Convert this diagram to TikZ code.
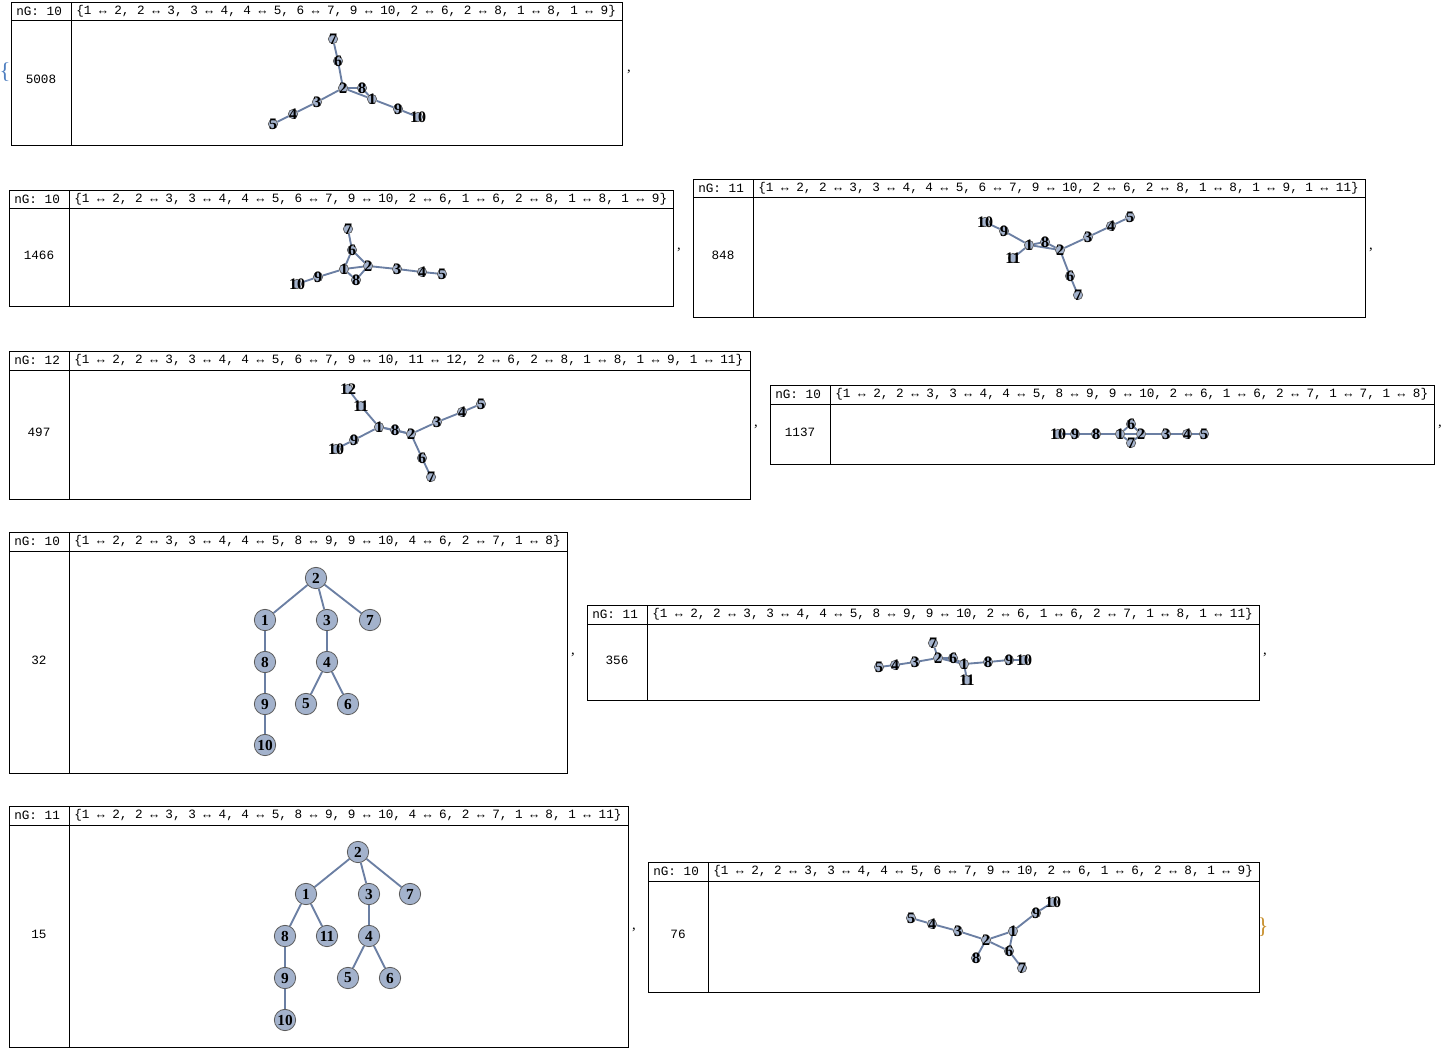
\documentclass[tikz,border=0pt]{standalone}
\usepackage{fontspec}
\setmainfont{Liberation Serif}
\newfontfamily\codefont{Liberation Mono}
\usepackage{tikz}
\usetikzlibrary{backgrounds}
\definecolor{edgeblue}{HTML}{6B7FA3}
\definecolor{vertexfill}{HTML}{A3B2CC}
\definecolor{vertexline}{HTML}{5A5A5A}
\definecolor{openbr}{HTML}{4F7FC0}
\definecolor{closebr}{HTML}{C8902E}

\begin{document}
\begin{tikzpicture}[
  x=0.75pt, y=-0.75pt,
  cell/.style={draw=black, line width=0.6pt},
  hdr/.style={anchor=west, inner sep=0pt, font=\codefont\fontsize{9.5}{10}\selectfont},
  num/.style={inner sep=0pt, font=\codefont\fontsize{9.5}{10}\selectfont},
  vtx/.style={circle, draw=vertexline, fill=vertexfill, line width=0.5pt,
    minimum size=7pt, inner sep=0pt},
  bigvtx/.style={circle, draw=vertexline, fill=vertexfill, line width=0.6pt,
    minimum size=16pt, inner sep=0pt, font=\bfseries\fontsize{11.5}{12}\selectfont},
  vlbl/.style={inner sep=0pt, font=\bfseries\fontsize{12}{12}\selectfont},
  edge/.style={draw=edgeblue, line width=1.4pt},
  punct/.style={inner sep=0pt, font=\fontsize{11}{12}\selectfont},
  brace/.style={inner sep=0pt, font=\fontsize{17}{18}\selectfont},
]
\useasboundingbox (0,0) rectangle (1446,1050);

% List delimiters
\node[brace, text=openbr] (lbr) at (5,72) {\{};
\node[brace, text=closebr] (rbr) at (1263,927) {\}};
\node[punct] (c1) at (629,72) {,};
\node[punct] (c2) at (679,250) {,};
\node[punct] (c3) at (1371,250) {,};
\node[punct] (c4) at (756,427) {,};
\node[punct] (c5) at (1440,427) {,};
\node[punct] (c6) at (573,655) {,};
\node[punct] (c7) at (1265,655) {,};
\node[punct] (c8) at (634,930) {,};

% 5008
\draw[cell] (11,2) rectangle (622,145) (11,20) -- (622,20) (71,2) -- (71,145);
\node[hdr] (h5008) at (16,11) {nG: 10};
\node[hdr] (e5008) at (76,11)
  {\{1 ↔ 2, 2 ↔ 3, 3 ↔ 4, 4 ↔ 5, 6 ↔ 7, 9 ↔ 10, 2 ↔ 6, 2 ↔ 8, 1 ↔ 8, 1 ↔ 9\}};
\node[num] (n5008) at (41,79) {5008};
\foreach \v/\x/\y in {1/372/99, 2/343/88, 3/317/102, 4/293/114, 5/273/124,
  6/338/61, 7/333/39, 8/362/88, 9/398/109, 10/418/117}
  \node[vtx, label={[vlbl]center:\v}] (a-\v) at (\x,\y) {};
\begin{scope}[on background layer]
  \foreach \s/\t in {1/2, 2/3, 3/4, 4/5, 6/7, 9/10, 2/6, 2/8, 1/8, 1/9}
    \draw[edge] (a-\s) -- (a-\t);
\end{scope}

% 1466
\draw[cell] (9,190) rectangle (673,306) (9,208) -- (673,208) (69,190) -- (69,306);
\node[hdr] (h1466) at (14,199) {nG: 10};
\node[hdr] (e1466) at (74,199)
  {\{1 ↔ 2, 2 ↔ 3, 3 ↔ 4, 4 ↔ 5, 6 ↔ 7, 9 ↔ 10, 2 ↔ 6, 1 ↔ 6, 2 ↔ 8, 1 ↔ 8, 1 ↔ 9\}};
\node[num] (n1466) at (39,255) {1466};
\foreach \v/\x/\y in {1/344/269, 2/368/266, 3/397/269, 4/422/272, 5/442/274,
  6/352/250, 7/348/229, 8/356/280, 9/318/277, 10/297/284}
  \node[vtx, label={[vlbl]center:\v}] (b-\v) at (\x,\y) {};
\begin{scope}[on background layer]
  \foreach \s/\t in {1/2, 2/3, 3/4, 4/5, 6/7, 9/10, 2/6, 1/6, 2/8, 1/8, 1/9}
    \draw[edge] (b-\s) -- (b-\t);
\end{scope}

% 848
\draw[cell] (693,179) rectangle (1365,317) (693,197) -- (1365,197) (753,179) -- (753,317);
\node[hdr] (h848) at (698,188) {nG: 11};
\node[hdr] (e848) at (758,188)
  {\{1 ↔ 2, 2 ↔ 3, 3 ↔ 4, 4 ↔ 5, 6 ↔ 7, 9 ↔ 10, 2 ↔ 6, 2 ↔ 8, 1 ↔ 8, 1 ↔ 9, 1 ↔ 11\}};
\node[num] (n848) at (723,255) {848};
\foreach \v/\x/\y in {1/1029/245, 2/1060/250, 3/1088/237, 4/1111/226, 5/1130/217,
  6/1070/276, 7/1078/295, 8/1045/242, 9/1004/231, 10/985/222, 11/1013/258}
  \node[vtx, label={[vlbl]center:\v}] (c-\v) at (\x,\y) {};
\begin{scope}[on background layer]
  \foreach \s/\t in {1/2, 2/3, 3/4, 4/5, 6/7, 9/10, 2/6, 2/8, 1/8, 1/9, 1/11}
    \draw[edge] (c-\s) -- (c-\t);
\end{scope}

% 497
\draw[cell] (9,351) rectangle (750,499) (9,370) -- (750,370) (69,351) -- (69,499);
\node[hdr] (h497) at (14,360.5) {nG: 12};
\node[hdr] (e497) at (74,360.5)
  {\{1 ↔ 2, 2 ↔ 3, 3 ↔ 4, 4 ↔ 5, 6 ↔ 7, 9 ↔ 10, 11 ↔ 12, 2 ↔ 6, 2 ↔ 8, 1 ↔ 8, 1 ↔ 9, 1 ↔ 11\}};
\node[num] (n497) at (39,432) {497};
\foreach \v/\x/\y in {1/379/427, 2/411/434, 3/437/422, 4/462/412, 5/481/404,
  6/422/458, 7/431/477, 8/395/430, 9/354/440, 10/336/449, 11/361/406, 12/348/389}
  \node[vtx, label={[vlbl]center:\v}] (d-\v) at (\x,\y) {};
\begin{scope}[on background layer]
  \foreach \s/\t in {1/2, 2/3, 3/4, 4/5, 6/7, 9/10, 11/12, 2/6, 2/8, 1/8, 1/9, 1/11}
    \draw[edge] (d-\s) -- (d-\t);
\end{scope}

% 1137
\draw[cell] (770,385) rectangle (1434,464) (770,404) -- (1434,404) (830,385) -- (830,464);
\node[hdr] (h1137) at (775,394.5) {nG: 10};
\node[hdr] (e1137) at (835,394.5)
  {\{1 ↔ 2, 2 ↔ 3, 3 ↔ 4, 4 ↔ 5, 8 ↔ 9, 9 ↔ 10, 2 ↔ 6, 1 ↔ 6, 2 ↔ 7, 1 ↔ 7, 1 ↔ 8\}};
\node[num] (n1137) at (800,432) {1137};
\foreach \v/\x/\y in {1/1120/434, 2/1141/434, 3/1166/434, 4/1187/434, 5/1204/434,
  6/1131/424, 7/1131/443, 8/1096/434, 9/1075/434, 10/1058/434}
  \node[vtx, label={[vlbl]center:\v}] (e-\v) at (\x,\y) {};
\begin{scope}[on background layer]
  \foreach \s/\t in {1/2, 2/3, 3/4, 4/5, 8/9, 9/10, 2/6, 1/6, 2/7, 1/7, 1/8}
    \draw[edge] (e-\s) -- (e-\t);
\end{scope}

% 32
\draw[cell] (9,532) rectangle (567,773) (9,551) -- (567,551) (69,532) -- (69,773);
\node[hdr] (h32) at (14,541.5) {nG: 10};
\node[hdr] (e32) at (74,541.5)
  {\{1 ↔ 2, 2 ↔ 3, 3 ↔ 4, 4 ↔ 5, 8 ↔ 9, 9 ↔ 10, 4 ↔ 6, 2 ↔ 7, 1 ↔ 8\}};
\node[num] (n32) at (39,660) {32};
\foreach \v/\x/\y in {1/265/620, 2/316/578, 3/327/620, 4/327/662, 5/306/704,
  6/348/704, 7/370/620, 8/265/662, 9/265/704, 10/265/745}
  \node[bigvtx] (f-\v) at (\x,\y) {\v};
\begin{scope}[on background layer]
  \foreach \s/\t in {1/2, 2/3, 3/4, 4/5, 8/9, 9/10, 4/6, 2/7, 1/8}
    \draw[edge] (f-\s) -- (f-\t);
\end{scope}

% 356
\draw[cell] (587,605) rectangle (1259,700) (587,624) -- (1259,624) (647,605) -- (647,700);
\node[hdr] (h356) at (592,614.5) {nG: 11};
\node[hdr] (e356) at (652,614.5)
  {\{1 ↔ 2, 2 ↔ 3, 3 ↔ 4, 4 ↔ 5, 8 ↔ 9, 9 ↔ 10, 2 ↔ 6, 1 ↔ 6, 2 ↔ 7, 1 ↔ 8, 1 ↔ 11\}};
\node[num] (n356) at (617,660) {356};
\foreach \v/\x/\y in {1/964/664, 2/938/658, 3/915/662, 4/895/665, 5/879/667,
  6/953/658, 7/933/643, 8/988/662, 9/1009/660, 10/1024/660, 11/967/680}
  \node[vtx, label={[vlbl]center:\v}] (g-\v) at (\x,\y) {};
\begin{scope}[on background layer]
  \foreach \s/\t in {1/2, 2/3, 3/4, 4/5, 8/9, 9/10, 2/6, 1/6, 2/7, 1/8, 1/11}
    \draw[edge] (g-\s) -- (g-\t);
\end{scope}

% 15
\draw[cell] (9,806) rectangle (628,1047) (9,825) -- (628,825) (69,806) -- (69,1047);
\node[hdr] (h15) at (14,815.5) {nG: 11};
\node[hdr] (e15) at (74,815.5)
  {\{1 ↔ 2, 2 ↔ 3, 3 ↔ 4, 4 ↔ 5, 8 ↔ 9, 9 ↔ 10, 4 ↔ 6, 2 ↔ 7, 1 ↔ 8, 1 ↔ 11\}};
\node[num] (n15) at (39,934) {15};
\foreach \v/\x/\y in {1/306/894, 2/358/852, 3/369/894, 4/369/936, 5/348/978,
  6/390/978, 7/410/894, 8/285/936, 9/285/978, 10/285/1020, 11/327/936}
  \node[bigvtx] (h-\v) at (\x,\y) {\v};
\begin{scope}[on background layer]
  \foreach \s/\t in {1/2, 2/3, 3/4, 4/5, 8/9, 9/10, 4/6, 2/7, 1/8, 1/11}
    \draw[edge] (h-\s) -- (h-\t);
\end{scope}

% 76
\draw[cell] (648,862) rectangle (1259,992) (648,881) -- (1259,881) (708,862) -- (708,992);
\node[hdr] (h76) at (653,871.5) {nG: 10};
\node[hdr] (e76) at (713,871.5)
  {\{1 ↔ 2, 2 ↔ 3, 3 ↔ 4, 4 ↔ 5, 6 ↔ 7, 9 ↔ 10, 2 ↔ 6, 1 ↔ 6, 2 ↔ 8, 1 ↔ 9\}};
\node[num] (n76) at (678,934) {76};
\foreach \v/\x/\y in {1/1013/931, 2/986/940, 3/958/931, 4/932/924, 5/911/918,
  6/1009/951, 7/1022/968, 8/976/958, 9/1036/913, 10/1053/902}
  \node[vtx, label={[vlbl]center:\v}] (k-\v) at (\x,\y) {};
\begin{scope}[on background layer]
  \foreach \s/\t in {1/2, 2/3, 3/4, 4/5, 6/7, 9/10, 2/6, 1/6, 2/8, 1/9}
    \draw[edge] (k-\s) -- (k-\t);
\end{scope}

\end{tikzpicture}
\end{document}
